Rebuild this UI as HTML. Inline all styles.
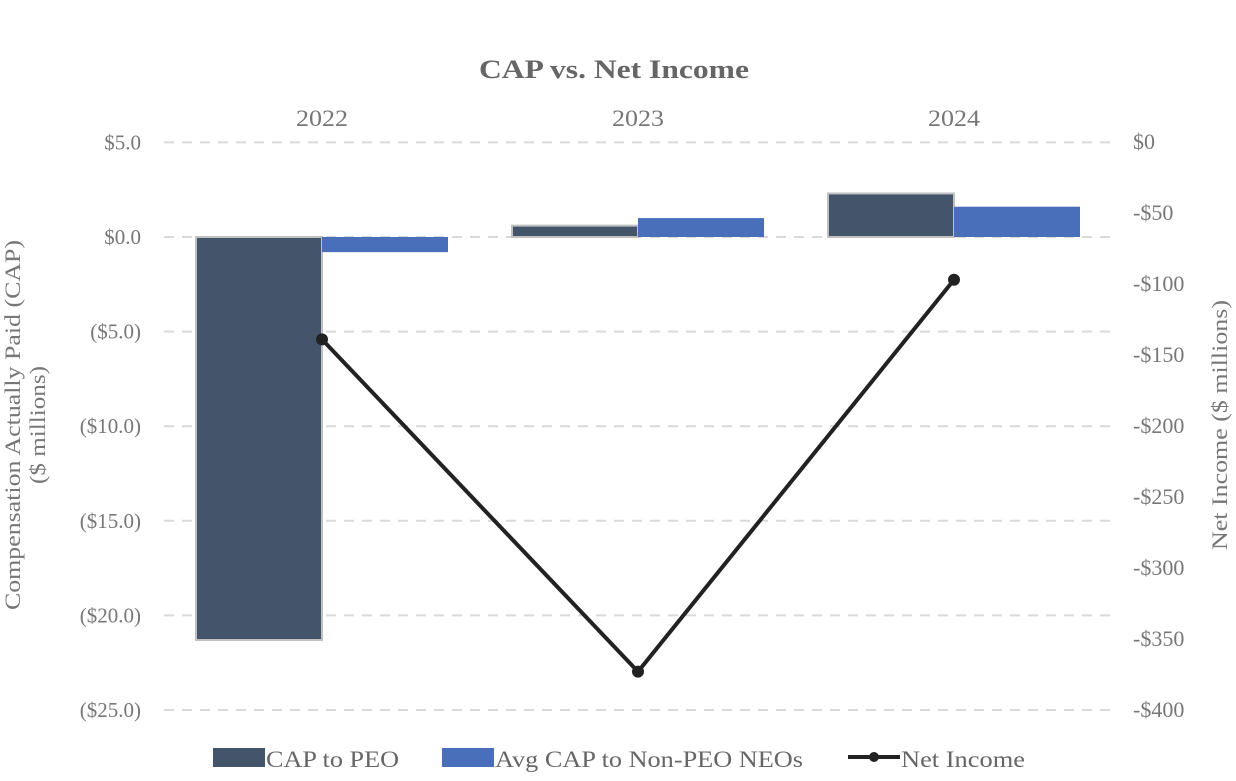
<!DOCTYPE html>
<html><head><meta charset="utf-8"><style>
body{margin:0;background:#fff;}
text{font-family:"Liberation Serif",serif;}
</style></head><body>
<svg id="chart" width="1236" height="776" xmlns="http://www.w3.org/2000/svg">
<text x="614" y="78" text-anchor="middle" font-size="26" font-weight="bold" fill="#666" textLength="270" lengthAdjust="spacingAndGlyphs">CAP vs. Net Income</text>
<g id="grid"></g><g id="bars"></g><g id="line"></g><g id="axes"></g>
<text transform="translate(20,425) rotate(-90)" text-anchor="middle" font-size="22" fill="#777" textLength="370" lengthAdjust="spacingAndGlyphs">Compensation Actually Paid (CAP)</text>
<text transform="translate(45,425) rotate(-90)" text-anchor="middle" font-size="22" fill="#777" textLength="118" lengthAdjust="spacingAndGlyphs">($ millions)</text>
<text transform="translate(1227,425) rotate(-90)" text-anchor="middle" font-size="22" fill="#777" textLength="250" lengthAdjust="spacingAndGlyphs">Net Income ($ millions)</text>
<g>
<rect x="213" y="748" width="52" height="19" fill="#44546a"/>
<text x="266" y="767" font-size="23" fill="#666" textLength="133" lengthAdjust="spacingAndGlyphs">CAP to PEO</text>
<rect x="442" y="748" width="52" height="19" fill="#4a6fba"/>
<text x="495" y="767" font-size="23" fill="#666" textLength="308" lengthAdjust="spacingAndGlyphs">Avg CAP to Non-PEO NEOs</text>
<line x1="848" y1="757" x2="900" y2="757" stroke="#222" stroke-width="4"/>
<circle cx="874" cy="757" r="5" fill="#222"/>
<text x="901" y="767" font-size="23" fill="#666" textLength="124" lengthAdjust="spacingAndGlyphs">Net Income</text>
</g>
</svg>
<script>
const categories=["2022","2023","2024"];
const capPEO=[-21.3,0.6,2.3];
const capNEO=[-0.8,1.0,1.6];
const netIncome=[-139,-373,-97];
const leftTicks=[5,0,-5,-10,-15,-20,-25];
const leftTickLabels=["$5.0","$0.0","($5.0)","($10.0)","($15.0)","($20.0)","($25.0)"];
const rightTicks=[0,-50,-100,-150,-200,-250,-300,-350,-400];
const rightTickLabels=["$0","-$50","-$100","-$150","-$200","-$250","-$300","-$350","-$400"];
const NS="http://www.w3.org/2000/svg";
const x0=164,bw=316;
const yL=v=>237-v*18.92;
function yRight(v){return 142+(-v)*1.42;}
function xC(i){return x0+bw*i+bw/2;}
function mk(t,a,p){const e=document.createElementNS(NS,t);for(const k in a)e.setAttribute(k,a[k]);p.appendChild(e);return e;}
const grid=document.getElementById('grid'),bars=document.getElementById('bars'),line=document.getElementById('line'),axes=document.getElementById('axes');
leftTicks.forEach((v,i)=>{
 const g=mk('line',{x1:164,x2:1112,y1:yL(v),y2:yL(v),stroke:'#d9d9d9','stroke-width':2,'stroke-dasharray':'10,8'},grid);
 
 
 const t=mk('text',{x:141,y:yL(v)+7,'text-anchor':'end','font-size':21,fill:'#777'},axes);t.textContent=leftTickLabels[i];
 
 
});
rightTicks.forEach((v,i)=>{
 const t=mk('text',{x:1133,y:yRight(v)+7,'font-size':22,fill:'#777'},axes);t.textContent=rightTickLabels[i];
 
 
});
categories.forEach((c,i)=>{
 const t=mk('text',{x:xC(i),y:126,'text-anchor':'middle','font-size':23,fill:'#777',textLength:52,lengthAdjust:'spacingAndGlyphs'},axes);t.textContent=c;
 
 
 const cx=xC(i);
 [[capPEO[i],'#44546a',cx-126],[capNEO[i],'#4a6fba',cx]].forEach((d,j)=>{
  const y1=yL(Math.max(d[0],0)),y2=yL(Math.min(d[0],0));
  const r=mk('rect',{x:d[2],y:y1,width:126,height:Math.max(y2-y1,1),fill:d[1],stroke:j==0?'#c0c0c0':'none','stroke-width':2},bars);
  
  
 });
});
const pts=netIncome.map((v,i)=>xC(i)+','+yRight(v)).join(' ');
const pl=mk('polyline',{points:pts,fill:'none',stroke:'#222','stroke-width':4},line);


netIncome.forEach((v,i)=>{
 const c=mk('circle',{cx:xC(i),cy:yRight(v),r:6,fill:'#222'},line);
 
 
});
</script>
</body></html>
